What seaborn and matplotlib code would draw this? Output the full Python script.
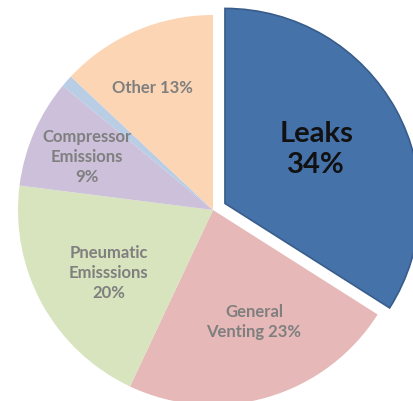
import matplotlib
matplotlib.use("Agg")
import matplotlib.pyplot as plt
import seaborn as sns

categories = ["Leaks", "General Venting", "Pneumatic Emissions", "Compressor Emissions", "Unlabeled", "Other"]
values = [34, 23, 20, 9, 1, 13]
label_texts = ["Leaks\n34%", "General\nVenting 23%", "Pneumatic\nEmisssions\n20%",
               "Compressor\nEmissions\n9%", "", "Other 13%"]
colors = ["#4672AA", "#E6B9B8", "#D7E4BD", "#CCC0DA", "#B9CDE5", "#FCD5B5"]

sns.set_theme(style="white")
plt.rcParams['font.family'] = ['Lato', 'DejaVu Sans']

fig = plt.figure(figsize=(4.14, 4.01), dpi=100)
ax = fig.add_axes([0, 0, 1, 1])
palette = sns.color_palette(colors)

wedges, _ = ax.pie(values, colors=palette, startangle=90, counterclock=False,
                   explode=[0.07, 0, 0, 0, 0, 0], radius=1.0,
                   wedgeprops=dict(linewidth=0))
wedges[0].set_edgecolor("#385D8A")
wedges[0].set_linewidth(1.2)

# label layout (data coords)
label_pos = [(0.53, 0.31), (0.21, -0.575), (-0.535, -0.325), (-0.645, 0.27), None, (-0.31, 0.627)]
for i, txt in enumerate(label_texts):
    if not txt:
        continue
    x, y = label_pos[i]
    if i == 0:
        ax.text(x, y, txt, ha="center", va="center", fontsize=21, fontweight="bold",
                color="#111111", linespacing=1.25)
    else:
        ax.text(x, y, txt, ha="center", va="center", fontsize=12, fontweight="bold",
                color="#7F7F7F", linespacing=1.3)

ax.set_xlim(-213 / 195, (414 - 213) / 195)
ax.set_ylim((210 - 401) / 195, 210 / 195)
ax.set_aspect("auto")
ax.axis("off")
fig.savefig("out.png", dpi=100)
